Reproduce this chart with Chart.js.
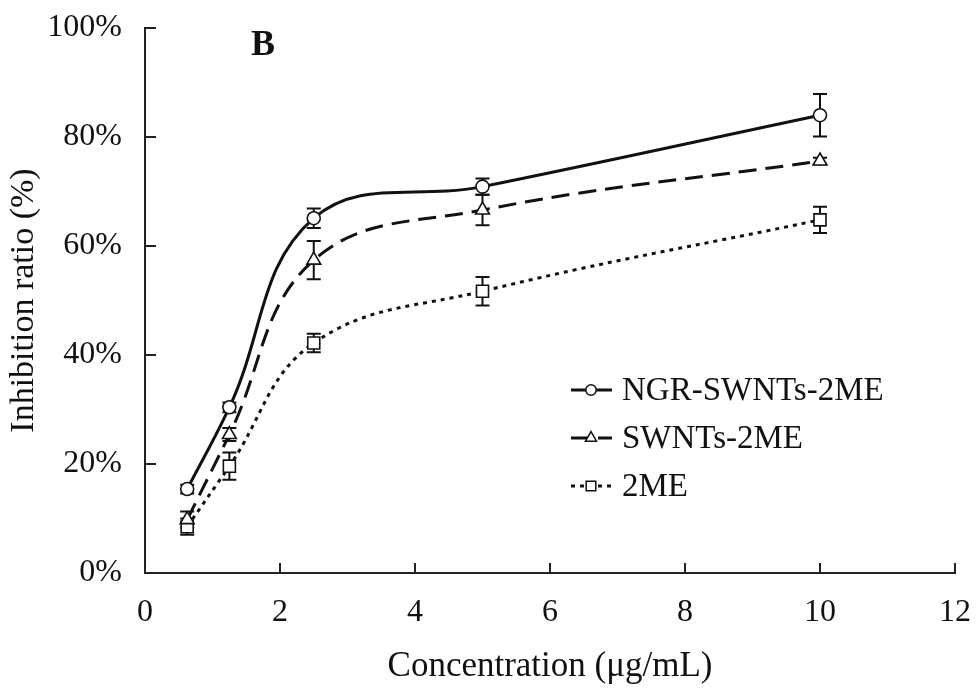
<!DOCTYPE html>
<html>
<head>
<meta charset="utf-8">
<script src="https://cdn.jsdelivr.net/npm/chart.js@4/dist/chart.umd.min.js"></script>
<style>
html, body { margin: 0; padding: 0; background: #fff; }
#wrap { width: 977px; height: 690px; }
</style>
</head>
<body>
<div id="wrap"><canvas id="c" width="977" height="690"></canvas></div>
<script>
// ---- data ----
const concentrations = [0.625, 1.25, 2.5, 5, 10];
const ngrValues  = [15.4, 30.4, 65.1, 70.9, 84.0];
const ngrErrors  = [0.8, 0.9, 1.8, 1.5, 3.9];
const swntValues = [9.8, 25.4, 57.4, 66.6, 75.6];
const swntErrors = [1.5, 1.2, 3.5, 2.8, 0.6];
const meValues   = [8.5, 19.6, 42.2, 51.7, 64.8];
const meErrors   = [1.5, 2.5, 1.7, 2.6, 2.4];
const seriesNames = ['NGR-SWNTs-2ME', 'SWNTs-2ME', '2ME'];
const xTickValues = [0, 2, 4, 6, 8, 10, 12];
const yTickValues = [0, 20, 40, 60, 80, 100];
const xTitle = 'Concentration (\u03bcg/mL)';
const yTitle = 'Inhibition ratio (%)';
const panelLabel = 'B';

const SERIF = '"Liberation Serif", "Times New Roman", serif';
const INK = '#111';

function toPoints(vals) { return concentrations.map((x, i) => ({ x: x, y: vals[i] })); }

const datasets = [
  { label: seriesNames[0], data: toPoints(ngrValues), errors: ngrErrors,
    borderColor: INK, borderWidth: 3, borderDash: [], pointStyle: 'circle', pointRadius: 6.5 },
  { label: seriesNames[1], data: toPoints(swntValues), errors: swntErrors,
    borderColor: INK, borderWidth: 3, borderDash: [18, 9], pointStyle: 'triangle', pointRadius: 8 },
  { label: seriesNames[2], data: toPoints(meValues), errors: meErrors,
    borderColor: INK, borderWidth: 3, borderDash: [4, 5], pointStyle: 'rect', pointRadius: 8.5 }
].map(d => Object.assign(d, {
  backgroundColor: '#fff', pointBackgroundColor: '#fff', pointBorderColor: INK,
  pointBorderWidth: 1.6, tension: 0.4, fill: false
}));

const errorBars = {
  id: 'errorBars',
  beforeDatasetsDraw(chart) {
    const ctx = chart.ctx, xs = chart.scales.x, ys = chart.scales.y;
    ctx.save();
    ctx.strokeStyle = INK; ctx.lineWidth = 2; ctx.setLineDash([]);
    chart.data.datasets.forEach(ds => {
      ds.data.forEach((p, i) => {
        const e = ds.errors[i];
        const px = xs.getPixelForValue(p.x);
        const top = ys.getPixelForValue(p.y + e), bot = ys.getPixelForValue(p.y - e);
        ctx.beginPath();
        ctx.moveTo(px, top); ctx.lineTo(px, bot);
        ctx.moveTo(px - 7, top); ctx.lineTo(px + 7, top);
        ctx.moveTo(px - 7, bot); ctx.lineTo(px + 7, bot);
        ctx.stroke();
      });
    });
    ctx.restore();
  }
};

const innerTicks = {
  id: 'innerTicks',
  afterDraw(chart) {
    const ctx = chart.ctx, xs = chart.scales.x, ys = chart.scales.y, a = chart.chartArea;
    ctx.save();
    ctx.strokeStyle = '#222'; ctx.lineWidth = 2; ctx.setLineDash([]);
    ctx.beginPath();
    xTickValues.forEach(v => { const px = Math.round(xs.getPixelForValue(v)); ctx.moveTo(px, a.bottom); ctx.lineTo(px, a.bottom - 10); });
    yTickValues.forEach(v => { const py = Math.round(ys.getPixelForValue(v)); ctx.moveTo(a.left, py); ctx.lineTo(a.left + 11, py); });
    ctx.stroke();
    ctx.restore();
  }
};

const customLegend = {
  id: 'customLegend',
  afterDraw(chart) {
    const ctx = chart.ctx;
    const rows = [390, 438, 486];
    ctx.save();
    chart.data.datasets.forEach((ds, i) => {
      const y = rows[i];
      ctx.strokeStyle = INK; ctx.lineWidth = 3; ctx.setLineDash(ds.borderDash);
      ctx.beginPath(); ctx.moveTo(571, y); ctx.lineTo(612, y); ctx.stroke();
      ctx.setLineDash([]);
      ctx.fillStyle = '#fff'; ctx.strokeStyle = INK; ctx.lineWidth = 1.5;
      Chart.helpers.drawPoint(ctx, { pointStyle: ds.pointStyle, radius: ds.pointRadius * 0.8, rotation: 0, borderWidth: 1.5 }, 591, y);
      ctx.fillStyle = INK;
      ctx.font = '33px ' + SERIF;
      ctx.textBaseline = 'middle'; ctx.textAlign = 'left';
      ctx.fillText(ds.label, 622, y + 1);
    });
    ctx.font = 'bold 36px ' + SERIF;
    ctx.textBaseline = 'alphabetic'; ctx.textAlign = 'center';
    ctx.fillStyle = INK;
    ctx.fillText(panelLabel, 263, 55);
    ctx.restore();
  }
};

new Chart(document.getElementById('c'), {
  type: 'line',
  data: { datasets: datasets },
  options: {
    responsive: false,
    animation: false,
    layout: { padding: { left: 0, right: 22, top: 28, bottom: 0 } },
    plugins: { legend: { display: false }, tooltip: { enabled: false } },
    scales: {
      x: {
        type: 'linear', min: 0, max: 12,
        afterBuildTicks(s) { s.ticks = xTickValues.map(v => ({ value: v })); },
        afterFit(s) { s.height = 117; s.paddingLeft = 0; s.paddingRight = 0; },
        grid: { display: false, drawTicks: false },
        border: { display: true, color: '#222', width: 2 },
        ticks: { color: INK, font: { family: SERIF, size: 32 }, padding: 20, maxRotation: 0,
                 callback: v => String(v) },
        title: { display: true, text: xTitle, color: INK, font: { family: SERIF, size: 35 }, padding: { top: 0, bottom: 2 } }
      },
      y: {
        type: 'linear', min: 0, max: 100,
        afterBuildTicks(s) { s.ticks = yTickValues.map(v => ({ value: v })); },
        afterFit(s) { s.width = 145; s.paddingTop = 0; s.paddingBottom = 0; },
        grid: { display: false, drawTicks: false },
        border: { display: true, color: '#222', width: 2 },
        ticks: { color: INK, font: { family: SERIF, size: 32 }, padding: 23,
                 callback: v => v + '%' },
        title: { display: true, text: yTitle, color: INK, font: { family: SERIF, size: 34 }, padding: { top: 4, bottom: 0 } }
      }
    }
  },
  plugins: [errorBars, innerTicks, customLegend]
});
</script>
</body>
</html>
